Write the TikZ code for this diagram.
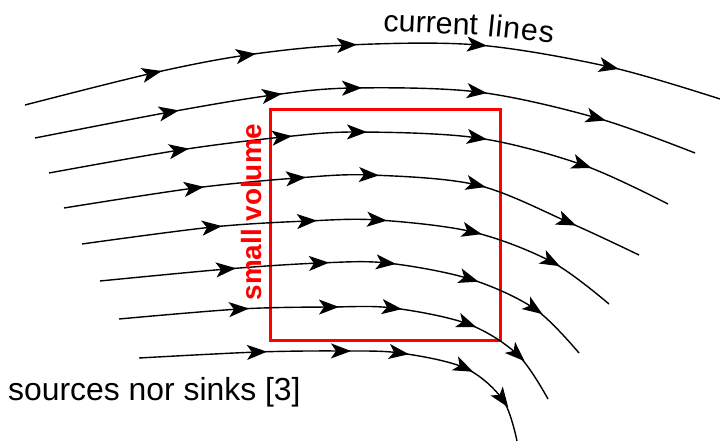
\documentclass[tikz,border=0pt]{standalone}
\usepackage{fontspec}
\setmainfont{Liberation Sans}
\usetikzlibrary{arrows.meta,calc}

\tikzset{
  flow/.style={line width=1.4bp, draw=black},
  flowhead/.style={line width=1.4bp, draw=black,
    -{Stealth[length=20bp,width=15bp,inset=5bp]}},
  volbox/.style={draw=red, line width=3bp},
  label/.style={inner sep=0pt, font=\fontsize{32}{38}\selectfont},
  toplabel/.style={inner sep=0pt, anchor=base west,
    font=\fontsize{30.5}{36}\selectfont},
  vollabel/.style={inner sep=0pt, text=red, rotate=90,
    font=\bfseries\fontsize{28}{33}\selectfont},
}

% One current line: name, start, five arrow points, end.
% The arrowheads follow the tangent of the smooth curve,
% which at each point is parallel to (next - previous).
\newcommand{\currentline}[8]{%
  \coordinate (#1-0) at (#2);
  \coordinate (#1-1) at (#3);
  \coordinate (#1-2) at (#4);
  \coordinate (#1-3) at (#5);
  \coordinate (#1-4) at (#6);
  \coordinate (#1-5) at (#7);
  \coordinate (#1-6) at (#8);
  \draw[flow] plot[smooth, tension=0.55] coordinates
    {(#1-0) (#1-1) (#1-2) (#1-3) (#1-4) (#1-5) (#1-6)};
  \foreach \i in {1,...,5} {
    \pgfmathtruncatemacro\prv{\i-1}
    \pgfmathtruncatemacro\nxt{\i+1}
    \path ($(#1-\i)+(#1-\nxt)-(#1-\prv)$) coordinate (#1-dir);
    \draw[flowhead] (#1-\i) -- ($(#1-\i)!9bp!(#1-dir)$);
  }
}

\begin{document}
\begin{tikzpicture}[x=1bp, y=-1bp]
\useasboundingbox (0,0) rectangle (720,441);

% the small volume
\draw[volbox] (270,110) rectangle (500,340);

% current lines, top to bottom
\currentline{la}{25,105}{153,73}{247,55}{348,45}{478,45}{610,67}{720,99}
\currentline{lb}{35,138}{170,112}{273,95}{353,88}{478,92}{597,118}{695,153}
\currentline{lc}{49,173}{180,150}{283,137}{358,132}{478,138}{583,165}{668,204}
\currentline{ld}{64,208}{195,188}{297,178}{370,175}{477,185}{568,222}{639,255}
\currentline{le}{82,244}{213,227}{308,221}{378,220}{473,232}{552,262}{609,304}
\currentline{lf}{100,281}{227,269}{320,263}{387,263}{470,279}{535,309}{579,353}
\currentline{lg}{119,319}{240,309}{330,307}{393,308}{468,324}{518,355}{548,399}
\currentline{lh}{139,358}{258,352}{342,351}{400,353}{465,368}{503,400}{517,441}

% labels; the title bends with the top current line
\node[toplabel, rotate=-2.5] (cur) at (383,31) {current};
\node[toplabel, rotate=-6] (lin) at (487,36)
  {\addfontfeatures{LetterSpace=3}lines};
\node[vollabel] (vol) at (252,212) {small volume};
\node[label, anchor=base west] (src) at (8,400) {sources nor sinks [3]};
\end{tikzpicture}
\end{document}
